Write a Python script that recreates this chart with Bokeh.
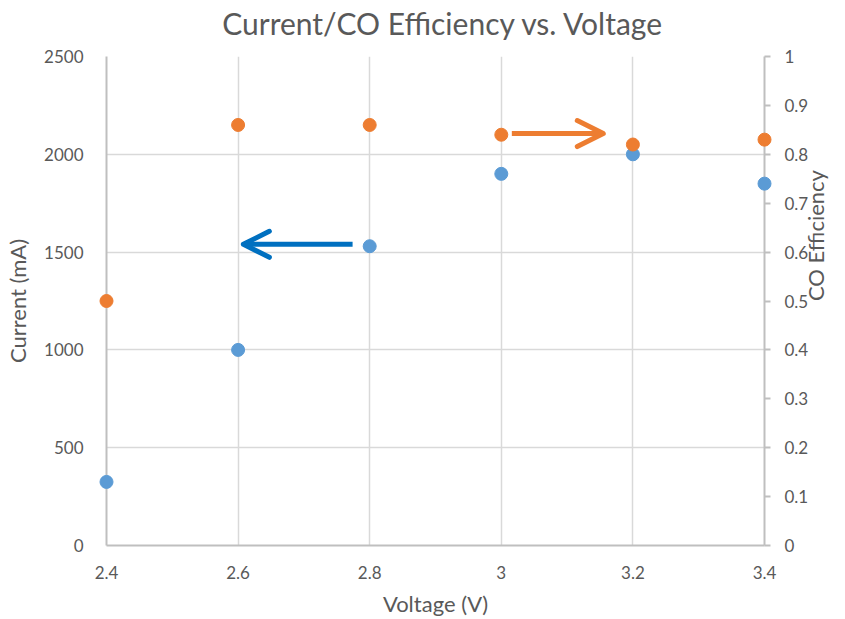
import math
from bokeh.plotting import figure
from bokeh.models import (LinearAxis, Range1d, FixedTicker, NumeralTickFormatter,
                          CustomJSTickFormatter, Arrow, OpenHead)
from bokeh.embed import file_html
from bokeh.resources import INLINE

# ---- data ----
voltage = [2.4, 2.6, 2.8, 3.0, 3.2, 3.4]
current_ma = [325, 1000, 1530, 1900, 2000, 1850]
co_efficiency = [0.50, 0.86, 0.86, 0.84, 0.82, 0.83]

x_ticks = [2.4, 2.6, 2.8, 3.0, 3.2, 3.4]
current_ticks = [0, 500, 1000, 1500, 2000, 2500]
efficiency_ticks = [0, 0.1, 0.2, 0.3, 0.4, 0.5, 0.6, 0.7, 0.8, 0.9, 1]

title_text = "Current/CO Efficiency vs. Voltage"
x_label = "Voltage (V)"
left_label = "Current (mA)"
right_label = "CO Efficiency"

# annotation arrows (data coordinates)
current_arrow = {"x_start": 2.774, "x_end": 2.608, "y": 1540}
efficiency_arrow = {"x_start": 3.016, "x_end": 3.155, "y": 0.8425}

TEXT = "#595959"
AXIS = "#BFBFBF"
GRID = "#D9D9D9"
FONT = "Lato"

p = figure(width=845, height=619,
           x_range=Range1d(2.4, 3.4), y_range=Range1d(0, 2500),
           output_backend="svg", toolbar_location=None, title=None,
           min_border_left=106, min_border_right=81,
           min_border_top=56, min_border_bottom=74)
p.outline_line_color = None
p.background_fill_color = "white"
p.border_fill_color = "white"

p.extra_y_ranges = {"eff": Range1d(0, 1)}

# bottom axis
xa = p.xaxis[0]
xa.ticker = FixedTicker(ticks=x_ticks)
xa.formatter = NumeralTickFormatter(format="0.[0]")
xa.axis_label = x_label

# left axis
ya = p.yaxis[0]
ya.ticker = FixedTicker(ticks=current_ticks)
ya.formatter = NumeralTickFormatter(format="0")
ya.axis_label = left_label

# right axis
ra = LinearAxis(y_range_name="eff", ticker=FixedTicker(ticks=efficiency_ticks),
                formatter=NumeralTickFormatter(format="0.[0]"))
p.add_layout(ra, "right")

for ax in (xa, ya, ra):
    ax.axis_line_color = AXIS
    ax.axis_line_width = 2
    ax.major_tick_line_color = AXIS
    ax.major_tick_line_width = 2
    ax.minor_tick_line_color = None
    ax.major_tick_in = 0
    ax.major_label_text_font = FONT
    ax.major_label_text_font_size = "17px"
    ax.major_label_text_color = TEXT
    ax.axis_label_text_font = FONT
    ax.axis_label_text_font_size = "22px"
    ax.axis_label_text_font_style = "normal"
    ax.axis_label_text_color = TEXT

xa.major_tick_out = 0
xa.major_label_standoff = 20
xa.axis_label_standoff = 8
ya.major_tick_out = 0
ya.major_label_standoff = 23
ya.axis_label_standoff = 10
ra.major_tick_out = 6
ra.major_label_standoff = 14

# right axis title, reading bottom-to-top like the reference
try:
    ra.axis_label_orientation = math.pi / 2
    ra.axis_label = right_label
    ra.axis_label_standoff = 4
except AttributeError:
    ra_title = LinearAxis(y_range_name="eff", ticker=FixedTicker(ticks=[0.5]),
                          formatter=CustomJSTickFormatter(code="return %r;" % right_label),
                          major_label_orientation=math.pi / 2,
                          axis_line_color=None, major_tick_line_color=None,
                          minor_tick_line_color=None, major_tick_out=0, major_tick_in=0,
                          major_label_standoff=14,
                          major_label_text_font=FONT, major_label_text_font_size="22px",
                          major_label_text_color=TEXT)
    p.add_layout(ra_title, "right")

# chart title (placed above the frame, slightly right of centre as in the reference)
title_axis = LinearAxis(ticker=FixedTicker(ticks=[2.912]),
                        formatter=CustomJSTickFormatter(code="return %r;" % title_text),
                        axis_line_color=None, major_tick_line_color=None,
                        minor_tick_line_color=None, major_tick_out=0, major_tick_in=0,
                        major_label_standoff=16,
                        major_label_text_font=FONT, major_label_text_font_size="30px",
                        major_label_text_color=TEXT)
p.add_layout(title_axis, "above")

p.xgrid.ticker = FixedTicker(ticks=x_ticks)
p.ygrid.ticker = FixedTicker(ticks=current_ticks)
for g in (p.xgrid[0], p.ygrid[0]):
    g.grid_line_color = GRID
    g.grid_line_width = 1.5

p.scatter(voltage, current_ma, marker="circle", size=13,
          fill_color="#5B9BD5", line_color="#5B9BD5", level="overlay")
p.scatter(voltage, co_efficiency, marker="circle", size=13,
          fill_color="#ED7D31", line_color="#ED7D31", level="overlay",
          y_range_name="eff")

p.add_layout(Arrow(end=OpenHead(line_color="#0070C0", line_width=5, size=26,
                                line_cap="round", line_join="round"),
                   x_start=current_arrow["x_start"], y_start=current_arrow["y"],
                   x_end=current_arrow["x_end"], y_end=current_arrow["y"],
                   line_color="#0070C0", line_width=5))
p.add_layout(Arrow(end=OpenHead(line_color="#ED7D31", line_width=5, size=26,
                                line_cap="round", line_join="round"),
                   x_start=efficiency_arrow["x_start"], y_start=efficiency_arrow["y"],
                   x_end=efficiency_arrow["x_end"], y_end=efficiency_arrow["y"],
                   line_color="#ED7D31", line_width=5, y_range_name="eff"))

open("out.html", "w").write(file_html(p, INLINE))
